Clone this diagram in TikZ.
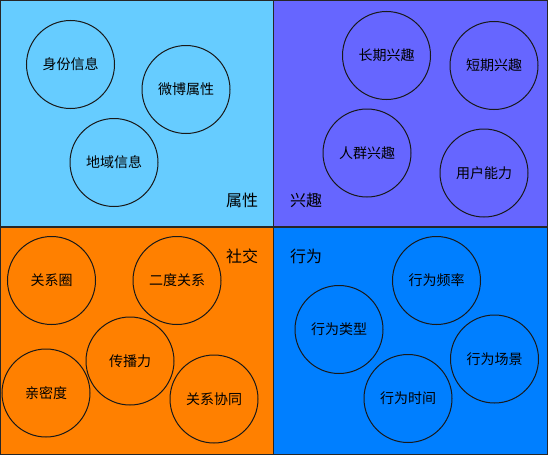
\documentclass[tikz,border=0pt]{standalone}
\usepackage{fontspec}
\setmainfont{Noto Sans CJK SC}
\definecolor{shuxingcol}{HTML}{66CCFF}
\definecolor{xingqucol}{HTML}{6666FF}
\definecolor{shejiaocol}{HTML}{FF8000}
\definecolor{xingweicol}{HTML}{007FFF}
\begin{document}
\begin{tikzpicture}[
    x=1pt, y=-1pt,
    quad/.style={draw=black!85, line width=1.3pt},
    item/.style={draw=black!90, circle, line width=1pt, minimum size=88pt,
        inner sep=0pt, font=\fontsize{14}{16}\selectfont},
    title/.style={font=\fontsize{16}{18}\selectfont}
]
    \useasboundingbox (0,0) rectangle (548,455);
    % Quadrants
    \filldraw[quad, fill=shuxingcol] (0.7,0.7) rectangle (273.5,227);
    \filldraw[quad, fill=xingqucol] (273.5,0.7) rectangle (547.3,227);
    \filldraw[quad, fill=shejiaocol] (0.7,227) rectangle (273.5,454.3);
    \filldraw[quad, fill=xingweicol] (273.5,227) rectangle (547.3,454.3);
    % Shuxing
    \node[item] (shenfen) at (70.5,64.5) {身份信息};
    \node[item] (weibo) at (186,89.5) {微博属性};
    \node[item] (diyu) at (114,162.5) {地域信息};
    \node[title] (shuxing) at (242,200) {属性};
    % Xingqu
    \node[item] (changqi) at (386.5,55.5) {长期兴趣};
    \node[item] (duanqi) at (494,65.5) {短期兴趣};
    \node[item] (renqun) at (367,153) {人群兴趣};
    \node[item] (nengli) at (484,173) {用户能力};
    \node[title] (xingqu) at (306,200) {兴趣};
    % Shejiao
    \node[item] (guanxiquan) at (51.5,280.5) {关系圈};
    \node[item] (erdu) at (177,280.5) {二度关系};
    \node[item] (chuanbo) at (130,361) {传播力};
    \node[item] (qinmi) at (46,393) {亲密度};
    \node[item] (xietong) at (214,399) {关系协同};
    \node[title] (shejiao) at (242,256) {社交};
    % Xingwei
    \node[item] (pinlv) at (436.5,280.5) {行为频率};
    \node[item] (leixing) at (339,329.5) {行为类型};
    \node[item] (changjing) at (494.5,359) {行为场景};
    \node[item] (shijian) at (408,398.5) {行为时间};
    \node[title] (xingwei) at (306,256) {行为};
\end{tikzpicture}
\end{document}
